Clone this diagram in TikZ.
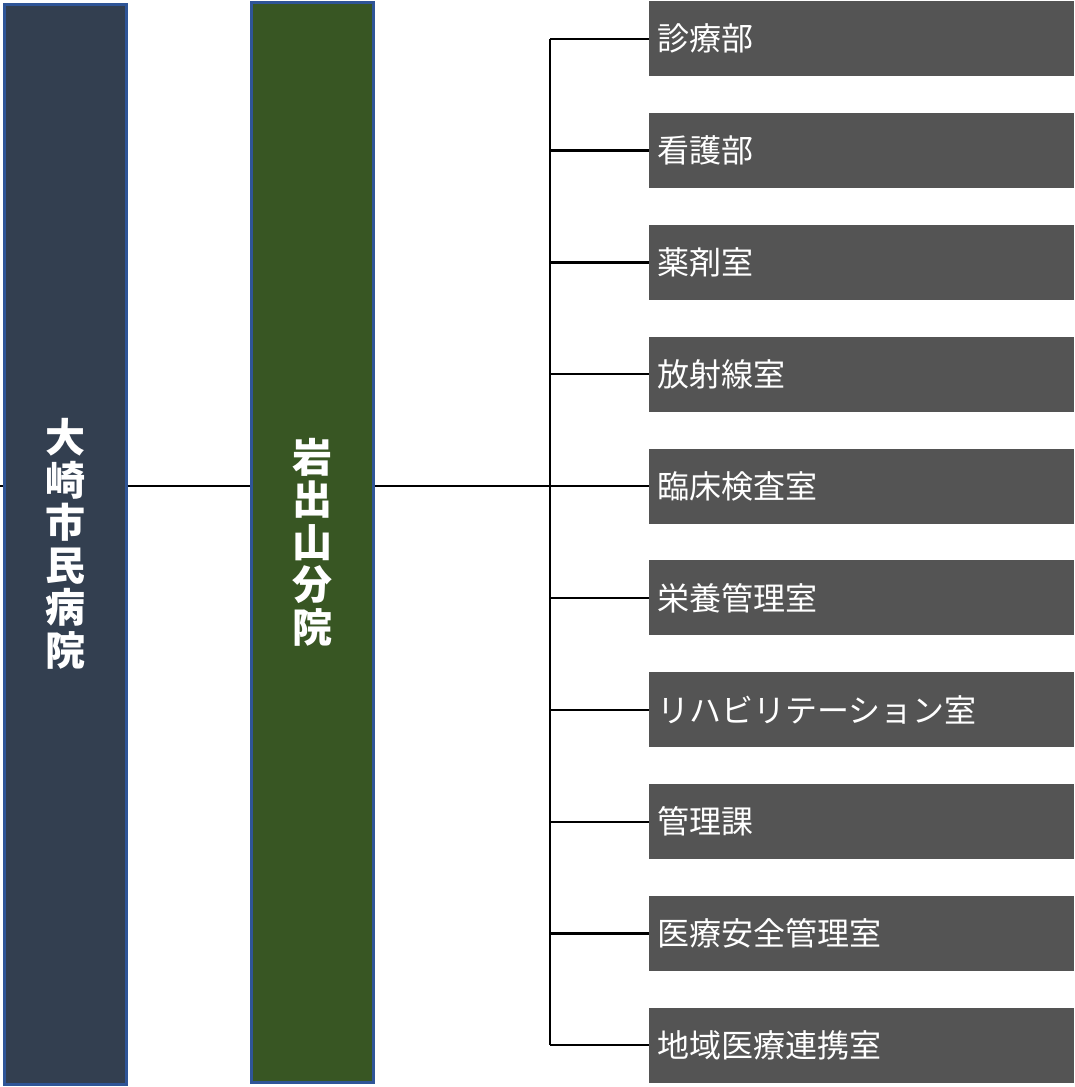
\documentclass[tikz,border=0pt]{standalone}
\usepackage{fontspec}
\newfontfamily\cjk{Noto Sans CJK JP}
\usetikzlibrary{positioning}
\definecolor{hospNavy}{RGB}{51,63,80}
\definecolor{branchGreen}{RGB}{56,86,35}
\definecolor{edgeBlue}{RGB}{47,85,151}
\definecolor{deptGray}{RGB}{84,84,84}

\begin{document}
\begin{tikzpicture}[x=1pt, y=-1pt, node distance=36.45pt,
  pillar/.style={draw=edgeBlue, line width=3pt, minimum width=122pt, minimum height=1080pt,
    inner sep=0pt, align=center, text=white, font=\cjk\bfseries\fontsize{40}{42.5}\selectfont},
  dept/.style={fill=deptGray, minimum width=425pt, minimum height=75pt, inner sep=8pt,
    text width=409pt, align=left, text=white, font=\cjk\fontsize{32}{38}\selectfont},
  link/.style={line width=2.2pt}]

\useasboundingbox (0,0) rectangle (1074,1087);

% Main hospital and branch
\coordinate (trunk) at (0,486);
\coordinate (bus) at (550,486);
\draw[link] (trunk) -- (5,486);
\node (hospital) [pillar, fill=hospNavy] at (65,544) {大\\崎\\市\\民\\病\\院};
\node (branch) [pillar, fill=branchGreen] at (312.5,542) {岩\\出\\山\\分\\院};

% Departments
\node (shinryo) [dept, anchor=north west] at (649,1) {診療部};
\node (kango) [dept, below=of shinryo] {看護部};
\node (yakuzai) [dept, below=of kango] {薬剤室};
\node (hoshasen) [dept, below=of yakuzai] {放射線室};
\node (kensa) [dept, below=of hoshasen] {臨床検査室};
\node (eiyo) [dept, below=of kensa] {栄養管理室};
\node (reha) [dept, below=of eiyo] {リハビリテーション室};
\node (kanri) [dept, below=of reha] {管理課};
\node (anzen) [dept, below=of kanri] {医療安全管理室};
\node (renkei) [dept, below=of anzen] {地域医療連携室};

% Connectors
\draw[link] (hospital.east |- trunk) -- (branch.west |- trunk);
\draw[link] (branch.east |- bus) -- (bus);
\draw[link] (bus |- shinryo.west) -- (bus |- renkei.west);

\draw[link] (bus |- shinryo.west) -- (shinryo.west);
\draw[link] (bus |- kango.west) -- (kango.west);
\draw[link] (bus |- yakuzai.west) -- (yakuzai.west);
\draw[link] (bus |- hoshasen.west) -- (hoshasen.west);
\draw[link] (bus |- kensa.west) -- (kensa.west);
\draw[link] (bus |- eiyo.west) -- (eiyo.west);
\draw[link] (bus |- reha.west) -- (reha.west);
\draw[link] (bus |- kanri.west) -- (kanri.west);
\draw[link] (bus |- anzen.west) -- (anzen.west);
\draw[link] (bus |- renkei.west) -- (renkei.west);

\end{tikzpicture}
\end{document}
